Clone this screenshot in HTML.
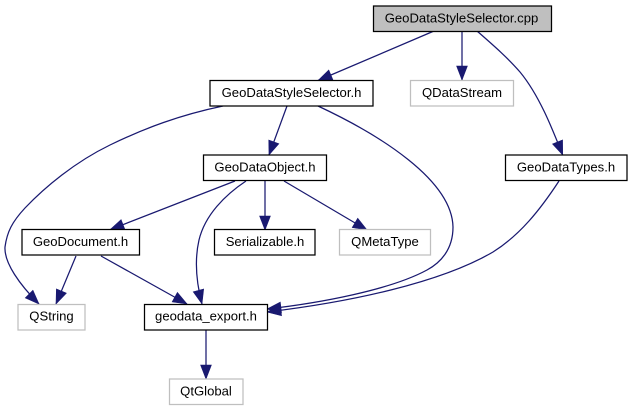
<!DOCTYPE html>
<html><head><meta charset="utf-8"><style>
html,body{margin:0;padding:0;background:#fff}
svg{display:block}
text{font-family:"Liberation Sans",sans-serif;font-size:13.1px;text-anchor:middle;fill:#000}
.n{fill:#fff;stroke:#000;stroke-width:1.25}
.g{fill:#fff;stroke:#bfbfbf;stroke-width:1.25}
.e{fill:none;stroke:#191970;stroke-width:1.25;marker-end:url(#a)}
#all{filter:blur(0.3px)}
</style></head><body>
<svg width="632" height="411" viewBox="0 0 632 411" xmlns="http://www.w3.org/2000/svg">
<defs><marker id="a" markerUnits="userSpaceOnUse" markerWidth="16" markerHeight="13" refX="14.5" refY="6" orient="auto"><path d="M0.5,0.6L14.5,6L0.5,11.4Z" fill="#191970" stroke="#191970" stroke-width="0.6"/></marker></defs>
<g id="all">
<path class="e" d="M434,31L318,80.5"/>
<path class="e" d="M462,31L462,80"/>
<path class="e" d="M477,31C493,45 508,58 520,72C539,95 552,128 562.7,155"/>
<path class="e" d="M223,106C180,115 145,128 110,145C75,162 45,187 25,208C12,222 7,232 5,247C4,263 20,285 39,304"/>
<path class="e" d="M318,106C380,135 452,180 453,227C453,250 440,263 427,270C390,290 320,303 267,309"/>
<path class="e" d="M287,106L269,155"/>
<path class="e" d="M235,181L110,229.7"/>
<path class="e" d="M246,181C225,195 205,215 199,240C194,262 197,285 202,304"/>
<path class="e" d="M265,181L265,230"/>
<path class="e" d="M284,181L367,230"/>
<path class="e" d="M559,181C540,210 520,235 493,252C440,283 350,302 267,312"/>
<path class="e" d="M76,256L56,304"/>
<path class="e" d="M101,256L187,304"/>
<path class="e" d="M206,330L206,379"/>
<rect x="373.5" y="6" width="178" height="25.5" fill="#bfbfbf" stroke="#000" stroke-width="1.25"/>
<text x="461.5" y="22.5">GeoDataStyleSelector.cpp</text>
<rect class="n" x="210" y="80.5" width="163" height="25.5"/>
<text x="291.5" y="97">GeoDataStyleSelector.h</text>
<rect class="g" x="410.5" y="80.5" width="103" height="25.5"/>
<text x="462" y="97">QDataStream</text>
<rect class="n" x="203.5" y="155" width="123" height="25.5"/>
<text x="265" y="171.5">GeoDataObject.h</text>
<rect class="n" x="505.5" y="155" width="121.5" height="25.5"/>
<text x="566" y="171.5">GeoDataTypes.h</text>
<rect class="n" x="22" y="229.5" width="117.5" height="25.5"/>
<text x="80.5" y="246">GeoDocument.h</text>
<rect class="n" x="214.5" y="229.5" width="100.5" height="25.5"/>
<text x="265" y="246">Serializable.h</text>
<rect class="g" x="339.5" y="229.5" width="91" height="25.5"/>
<text x="385" y="246">QMetaType</text>
<rect class="g" x="18" y="304.5" width="67" height="25.5"/>
<text x="51.5" y="320.5">QString</text>
<rect class="n" x="144.5" y="304.5" width="123" height="25.5"/>
<text x="206" y="320.5">geodata_export.h</text>
<rect class="g" x="169.5" y="379" width="73.5" height="25.5"/>
<text x="206" y="395.5">QtGlobal</text>
</g>
</svg>
</body></html>
